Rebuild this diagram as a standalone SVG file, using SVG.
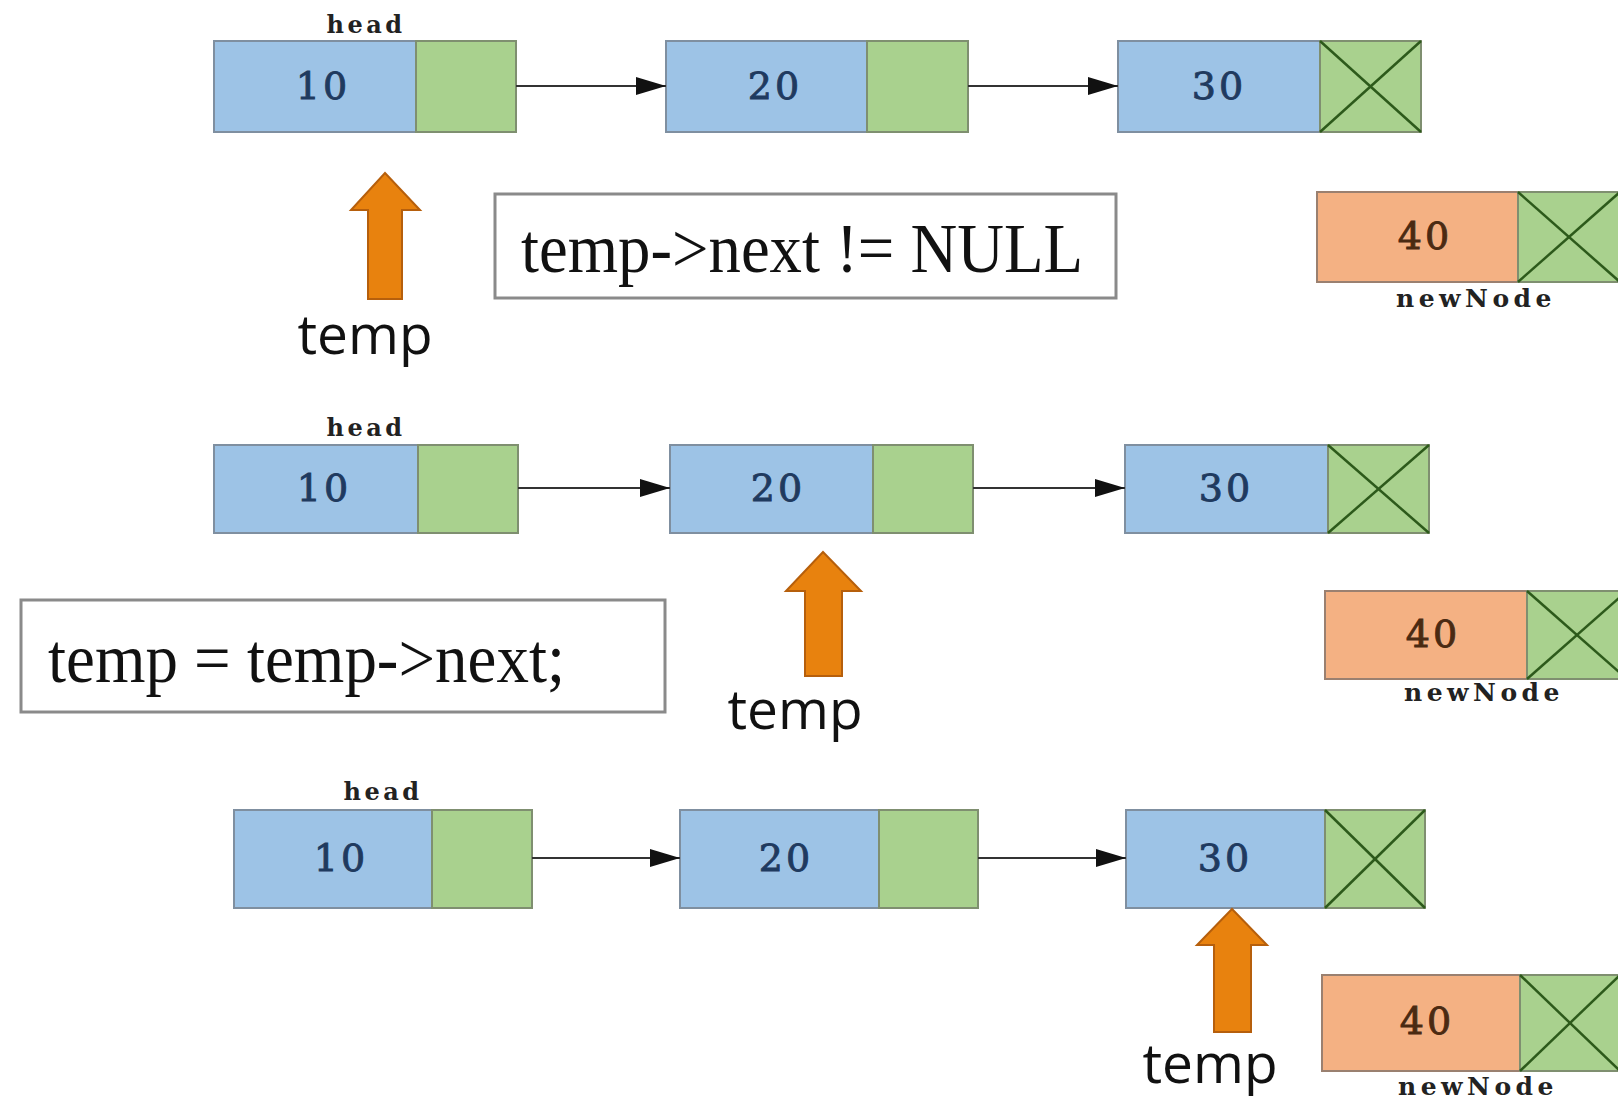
<svg xmlns="http://www.w3.org/2000/svg" width="1618" height="1099" viewBox="0 0 1618 1099">
<style>
.blue{fill:#9dc3e6;stroke:#7f8fa0;stroke-width:2}
.green{fill:#a9d18e;stroke:#7f8f70;stroke-width:2}
.orange{fill:#f4b183;stroke:#9a8070;stroke-width:2}
.cross{stroke:#2d5a1b;stroke-width:2.5}
.num{font-family:"DejaVu Serif","Liberation Serif",serif;font-size:38px;fill:#1f3a5f;stroke:#1f3a5f;stroke-width:0.9;text-anchor:middle;letter-spacing:3px}
.num40{font-family:"DejaVu Serif","Liberation Serif",serif;font-size:38px;fill:#4a2a12;stroke:#4a2a12;stroke-width:0.9;text-anchor:middle;letter-spacing:3px}
.lbl{font-family:"DejaVu Serif","Liberation Serif",serif;font-weight:bold;font-size:24px;fill:#222;text-anchor:middle;letter-spacing:3.5px}
.nn{font-family:"DejaVu Serif","Liberation Serif",serif;font-weight:bold;font-size:25px;fill:#222;text-anchor:middle;letter-spacing:4.5px}
.temp{font-family:"Open Sans","Liberation Sans",sans-serif;font-size:55px;fill:#111;text-anchor:middle}
.code{font-family:"Liberation Serif","Times New Roman",serif;font-size:70px;fill:#111}
.cbox{fill:#fff;stroke:#8a8a8a;stroke-width:3}
.link{stroke:#333;stroke-width:2;fill:none}
.ptr{fill:#e8820e;stroke:#b65f0c;stroke-width:2}
</style>
<defs>
<marker id="ah" markerWidth="30" markerHeight="18" refX="30" refY="9" orient="auto" markerUnits="userSpaceOnUse">
<path d="M0,0 L30,9 L0,18 Z" fill="#111"/>
</marker>
</defs>

<!-- Row 1 -->
<g id="r1-head"><text class="lbl" x="366" y="33">head</text></g>
<g id="r1-n10">
<rect class="blue" x="214" y="41" width="202" height="91"/>
<rect class="green" x="416" y="41" width="100" height="91"/>
<text class="num" x="323" y="99">10</text>
</g>
<g id="r1-n20">
<rect class="blue" x="666" y="41" width="201" height="91"/>
<rect class="green" x="867" y="41" width="101" height="91"/>
<text class="num" x="775" y="99">20</text>
</g>
<g id="r1-n30">
<rect class="blue" x="1118" y="41" width="202" height="91"/>
<rect class="green" x="1320" y="41" width="101" height="91"/>
<line class="cross" x1="1320" y1="41" x2="1421" y2="132"/>
<line class="cross" x1="1320" y1="132" x2="1421" y2="41"/>
<text class="num" x="1219" y="99">30</text>
</g>
<g id="r1-temp">
<polygon class="ptr" points="385,173 420,210 402,210 402,299 368,299 368,210 351,210"/>
<text class="temp" x="365" y="354">temp</text>
</g>
<g id="r1-cond">
<rect class="cbox" x="495" y="194" width="621" height="104"/>
<text class="code" x="521" y="272" textLength="562" lengthAdjust="spacingAndGlyphs">temp-&gt;next != NULL</text>
</g>
<g id="r1-newNode">
<rect class="orange" x="1317" y="192" width="201" height="90"/>
<rect class="green" x="1518" y="192" width="102" height="90"/>
<line class="cross" x1="1518" y1="192" x2="1620" y2="282"/>
<line class="cross" x1="1518" y1="282" x2="1620" y2="192"/>
<text class="num40" x="1425" y="249">40</text>
<text class="nn" x="1476" y="307">newNode</text>
</g>

<!-- Row 2 -->
<g id="r2-head"><text class="lbl" x="366" y="436">head</text></g>
<g id="r2-n10">
<rect class="blue" x="214" y="445" width="204" height="88"/>
<rect class="green" x="418" y="445" width="100" height="88"/>
<text class="num" x="324" y="501">10</text>
</g>
<g id="r2-n20">
<rect class="blue" x="670" y="445" width="203" height="88"/>
<rect class="green" x="873" y="445" width="100" height="88"/>
<text class="num" x="778" y="501">20</text>
</g>
<g id="r2-n30">
<rect class="blue" x="1125" y="445" width="203" height="88"/>
<rect class="green" x="1328" y="445" width="101" height="88"/>
<line class="cross" x1="1328" y1="445" x2="1429" y2="533"/>
<line class="cross" x1="1328" y1="533" x2="1429" y2="445"/>
<text class="num" x="1226" y="501">30</text>
</g>
<g id="r2-temp">
<polygon class="ptr" points="823,552 861,591 842,591 842,676 805,676 805,591 786,591"/>
<text class="temp" x="795" y="729">temp</text>
</g>
<g id="r2-assign">
<rect class="cbox" x="21" y="600" width="644" height="112"/>
<text class="code" x="48" y="682" textLength="517" lengthAdjust="spacingAndGlyphs">temp = temp-&gt;next;</text>
</g>
<g id="r2-newNode">
<rect class="orange" x="1325" y="591" width="202" height="88"/>
<rect class="green" x="1527" y="591" width="100" height="88"/>
<line class="cross" x1="1527" y1="591" x2="1627" y2="679"/>
<line class="cross" x1="1527" y1="679" x2="1627" y2="591"/>
<text class="num40" x="1433" y="647">40</text>
<text class="nn" x="1484" y="701">newNode</text>
</g>

<!-- Row 3 -->
<g id="r3-head"><text class="lbl" x="383" y="800">head</text></g>
<g id="r3-n10">
<rect class="blue" x="234" y="810" width="198" height="98"/>
<rect class="green" x="432" y="810" width="100" height="98"/>
<text class="num" x="341" y="871">10</text>
</g>
<g id="r3-n20">
<rect class="blue" x="680" y="810" width="199" height="98"/>
<rect class="green" x="879" y="810" width="99" height="98"/>
<text class="num" x="786" y="871">20</text>
</g>
<g id="r3-n30">
<rect class="blue" x="1126" y="810" width="199" height="98"/>
<rect class="green" x="1325" y="810" width="100" height="98"/>
<line class="cross" x1="1325" y1="810" x2="1425" y2="908"/>
<line class="cross" x1="1325" y1="908" x2="1425" y2="810"/>
<text class="num" x="1225" y="871">30</text>
</g>
<g id="r3-temp">
<polygon class="ptr" points="1232,909 1267,945 1251,945 1251,1032 1214,1032 1214,945 1197,945"/>
<text class="temp" x="1210" y="1083">temp</text>
</g>
<g id="r3-newNode">
<rect class="orange" x="1322" y="975" width="198" height="96"/>
<rect class="green" x="1520" y="975" width="100" height="96"/>
<line class="cross" x1="1520" y1="975" x2="1620" y2="1071"/>
<line class="cross" x1="1520" y1="1071" x2="1620" y2="975"/>
<text class="num40" x="1427" y="1034">40</text>
<text class="nn" x="1478" y="1095">newNode</text>
</g>

<!-- connectors -->
<g id="connectors">
<line class="link" x1="516" y1="86" x2="666" y2="86" marker-end="url(#ah)"/>
<line class="link" x1="968" y1="86" x2="1118" y2="86" marker-end="url(#ah)"/>
<line class="link" x1="518" y1="488" x2="670" y2="488" marker-end="url(#ah)"/>
<line class="link" x1="973" y1="488" x2="1125" y2="488" marker-end="url(#ah)"/>
<line class="link" x1="532" y1="858" x2="680" y2="858" marker-end="url(#ah)"/>
<line class="link" x1="978" y1="858" x2="1126" y2="858" marker-end="url(#ah)"/>
</g>
</svg>
